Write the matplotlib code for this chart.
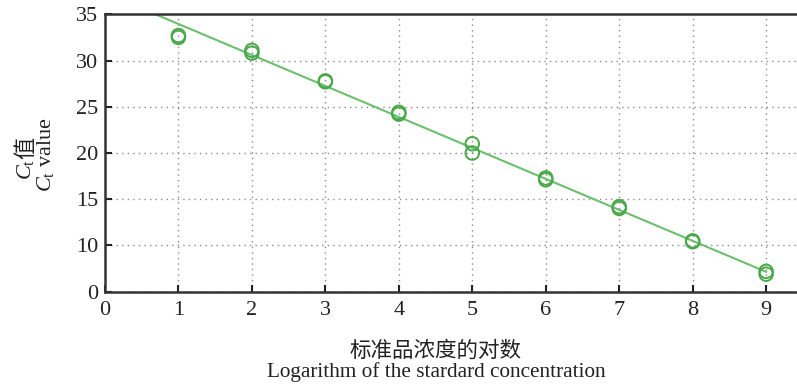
import numpy as np
import matplotlib
matplotlib.use('Agg')
import matplotlib.pyplot as plt

# replicate Ct readings for each log concentration
log_conc = [1, 1, 2, 2, 3, 3, 4, 4, 5, 5, 6, 6, 7, 7, 8, 8, 9, 9]
ct_value = [32.7, 32.5, 31.1, 30.8, 27.8, 27.7, 24.4, 24.2, 21.0, 20.0,
            17.3, 17.1, 14.2, 14.0, 10.5, 10.4, 7.2, 6.9]

# fitted standard curve
fit_slope = -3.35
fit_intercept = 37.3
fit_x = [0, 9]

y_ticks = [5, 10, 15, 20, 25, 30, 35]
y_tick_labels = ['0', '10', '15', '20', '25', '30', '35']
x_ticks = [0, 1, 2, 3, 4, 5, 6, 7, 8, 9]

serif = ['Liberation Serif', 'Noto Sans CJK SC']
cjk = ['Noto Sans CJK SC', 'Liberation Serif']
plt.rcParams['font.family'] = serif
plt.rcParams['mathtext.fontset'] = 'custom'
plt.rcParams['mathtext.it'] = 'Liberation Serif:italic'
plt.rcParams['mathtext.rm'] = 'Liberation Serif'

txt = '#222222'

fig = plt.figure(figsize=(7.97, 3.85), dpi=100)
ax = fig.add_axes([0.1317, 0.2423, 0.8683, 0.7206])

line_x = np.array(fit_x, dtype=float)
ax.plot(line_x, fit_slope * line_x + fit_intercept, color='#6cbf6c', linewidth=1.5, zorder=2)
ax.scatter(log_conc, ct_value, s=95, facecolors='none', edgecolors='#4aa84a',
           linewidths=1.4, zorder=3)

ax.set_xlim(0, 9.42)
ax.set_ylim(5, 35)
ax.set_xticks(x_ticks)
ax.set_yticks(y_ticks)
ax.set_yticklabels(y_tick_labels)

ax.grid(True, linestyle=(0, (1, 3)), color='#8a8a8a', linewidth=1.0)
ax.tick_params(direction='in', length=5, width=1.5, labelsize=16, colors=txt,
               top=False, right=False)
ax.tick_params(axis='x', pad=7)
ax.tick_params(axis='y', pad=5)
for side in ['left', 'bottom', 'top']:
    ax.spines[side].set_linewidth(1.8)
    ax.spines[side].set_color('#333333')
ax.spines['right'].set_visible(False)

# x axis label, Chinese line over English line
fig.text(436 / 797, 1 - 351 / 385, '标准品浓度的对数', family=cjk, fontsize=15.5,
         ha='center', va='center', color=txt)
fig.text(436 / 797, 1 - 372 / 385, 'Logarithm of the stardard concentration',
         fontsize=15.3, ha='center', va='center', color=txt)

# y axis label, two rotated lines
ct1 = fig.text(26 / 797, 1 - 180 / 385, '$C_{\\mathrm{t}}$', fontsize=16,
               rotation=90, ha='center', va='bottom', color=txt)
ax.annotate('值', xy=(0.5, 1.0), xycoords=ct1, family=cjk, fontsize=16,
            rotation=90, ha='center', va='bottom', color=txt)
fig.text(46 / 797, 1 - 155 / 385, '$C_{\\mathrm{t}}$ value', fontsize=16,
         rotation=90, ha='center', va='center', color=txt)

fig.savefig('out.png', dpi=100)
